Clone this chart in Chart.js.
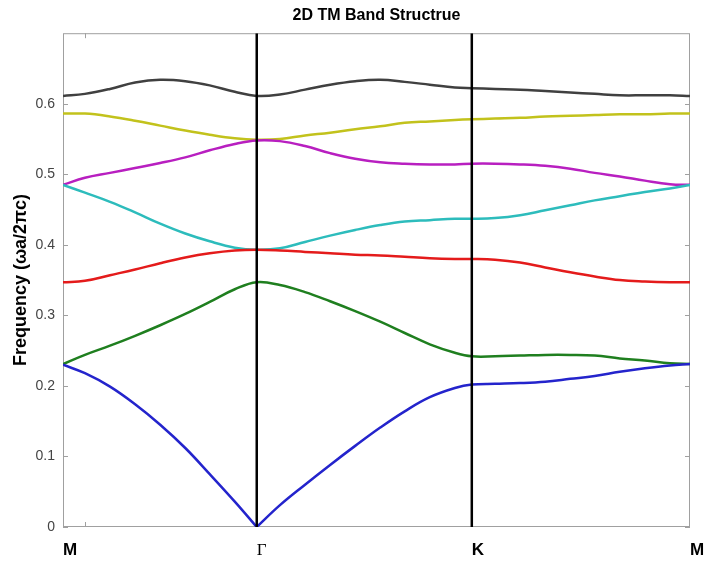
<!DOCTYPE html>
<html>
<head>
<meta charset="utf-8">
<script src="https://cdn.jsdelivr.net/npm/chart.js@4.4.1/dist/chart.umd.min.js"></script>
<style>
  html, body { margin: 0; padding: 0; background: #fff; }
</style>
</head>
<body>
<canvas id="bandChart" width="706" height="565"></canvas>
<script>
// k-path position (M -> Gamma -> K -> M), normalised to 0..1
const kPath = [0, 0.035, 0.075, 0.115, 0.155, 0.195, 0.234, 0.274, 0.309,
               0.346, 0.386, 0.426, 0.466, 0.506, 0.545, 0.585, 0.625, 0.652,
               0.689, 0.729, 0.769, 0.809, 0.848, 0.888, 0.928, 0.968, 1];

const kTicks = [0, 0.309, 0.652, 1];
const kLabels = ['M', 'Γ', 'K', 'M'];
const xMinorTicks = [0.035];
const yTicks = [0, 0.1, 0.2, 0.3, 0.4, 0.5, 0.6];

// band frequencies (wa/2pic)
const band1 = [0.230, 0.218, 0.199, 0.174, 0.145, 0.112, 0.075, 0.036, 0.000,
               0.031, 0.060, 0.088, 0.115, 0.141, 0.164, 0.184, 0.197, 0.202,
               0.203, 0.204, 0.206, 0.210, 0.214, 0.220, 0.225, 0.229, 0.231];
const band2 = [0.231, 0.244, 0.257, 0.271, 0.286, 0.302, 0.319, 0.337, 0.347,
               0.343, 0.333, 0.320, 0.306, 0.291, 0.275, 0.259, 0.247, 0.242,
               0.242, 0.243, 0.244, 0.244, 0.243, 0.239, 0.236, 0.232, 0.231];
const band3 = [0.347, 0.349, 0.357, 0.365, 0.374, 0.382, 0.388, 0.392, 0.393,
               0.392, 0.390, 0.388, 0.386, 0.385, 0.383, 0.381, 0.380, 0.380,
               0.379, 0.375, 0.368, 0.361, 0.355, 0.350, 0.348, 0.347, 0.347];
const band4 = [0.485, 0.474, 0.461, 0.446, 0.430, 0.416, 0.405, 0.396, 0.393,
               0.395, 0.404, 0.413, 0.421, 0.428, 0.433, 0.435, 0.437, 0.437,
               0.438, 0.442, 0.449, 0.456, 0.463, 0.469, 0.475, 0.480, 0.485];
const band5 = [0.485, 0.495, 0.502, 0.509, 0.516, 0.524, 0.534, 0.543, 0.548,
               0.547, 0.540, 0.530, 0.522, 0.517, 0.515, 0.514, 0.514, 0.515,
               0.515, 0.514, 0.512, 0.508, 0.502, 0.497, 0.491, 0.486, 0.485];
const band6 = [0.586, 0.586, 0.582, 0.576, 0.569, 0.562, 0.556, 0.551, 0.549,
               0.550, 0.555, 0.559, 0.564, 0.568, 0.573, 0.575, 0.577, 0.578,
               0.579, 0.580, 0.582, 0.583, 0.584, 0.585, 0.585, 0.586, 0.586];
const band7 = [0.611, 0.614, 0.621, 0.630, 0.634, 0.632, 0.626, 0.617, 0.611,
               0.613, 0.620, 0.627, 0.632, 0.634, 0.631, 0.627, 0.623, 0.622,
               0.621, 0.620, 0.618, 0.616, 0.614, 0.612, 0.612, 0.612, 0.611];

const bands = [band1, band2, band3, band4, band5, band6, band7];
const bandColors = ['#2424cc', '#1f7f1f', '#e41b1b', '#2dbcbc', '#b81fc0', '#c2c21c', '#404040'];

const yMin = 0, yMax = 0.7;
const gammaIdx = kPath.indexOf(kTicks[1]);

function toPoints(ys, from, to) {
    const pts = [];
    for (let i = from; i <= to; i++) pts.push({ x: kPath[i], y: ys[i] });
    return pts;
}

const datasets = [];

// symmetry point lines (Gamma, K)
[kTicks[1], kTicks[2]].forEach(k => {
    datasets.push({
        data: [{ x: k, y: yMin }, { x: k, y: yMax }],
        borderColor: '#000',
        borderWidth: 2.5,
        pointRadius: 0,
        tension: 0,
        order: 0
    });
});

function bandLine(pts, color) {
    return {
        data: pts,
        borderColor: color,
        borderWidth: 2.5,
        pointRadius: 0,
        tension: 0.4,
        order: 1
    };
}

bands.forEach((b, i) => {
    if (i === 0) {
        // lowest band has a sharp V at Gamma: draw both sides separately
        datasets.push(bandLine(toPoints(b, 0, gammaIdx), bandColors[i]));
        datasets.push(bandLine(toPoints(b, gammaIdx, b.length - 1), bandColors[i]));
    } else {
        datasets.push(bandLine(toPoints(b, 0, b.length - 1), bandColors[i]));
    }
});

// matlab-style box with inward ticks
const frameTicks = {
    id: 'frameTicks',
    beforeDatasetsDraw(chart) {
        const { ctx, chartArea: a, scales: { x, y } } = chart;
        ctx.save();
        ctx.strokeStyle = '#a0a0a0';
        ctx.lineWidth = 1;
        ctx.strokeRect(a.left + 0.5, a.top + 0.5, a.right - a.left - 1, a.bottom - a.top - 1);
        ctx.beginPath();
        yTicks.forEach(v => {
            const py = Math.round(y.getPixelForValue(v)) + 0.5;
            ctx.moveTo(a.left, py); ctx.lineTo(a.left + 5, py);
            ctx.moveTo(a.right - 5, py); ctx.lineTo(a.right, py);
        });
        xMinorTicks.forEach(v => {
            const px = Math.round(x.getPixelForValue(v)) + 0.5;
            ctx.moveTo(px, a.bottom); ctx.lineTo(px, a.bottom - 5);
            ctx.moveTo(px, a.top); ctx.lineTo(px, a.top + 5);
        });
        ctx.stroke();
        ctx.restore();
    }
};

const ctx = document.getElementById('bandChart').getContext('2d');
new Chart(ctx, {
    type: 'line',
    data: { datasets: datasets },
    plugins: [frameTicks],
    options: {
        responsive: false,
        animation: false,
        layout: { padding: { left: 0, right: 16, top: 0, bottom: 0 } },
        plugins: {
            legend: { display: false },
            tooltip: { enabled: false },
            title: {
                display: true,
                text: '2D TM Band Structrue',
                fullSize: false,
                color: '#000',
                font: { family: 'Liberation Sans', size: 16, weight: 'bold' },
                padding: { top: 6, bottom: 8 }
            }
        },
        scales: {
            x: {
                type: 'linear',
                min: 0,
                max: 1,
                grid: { display: false, drawTicks: false },
                border: { display: false },
                afterBuildTicks: scale => {
                    scale.ticks = kTicks.map(v => ({ value: v }));
                },
                afterFit: scale => {
                    scale.height = 38;
                    scale.paddingLeft = 0;
                    scale.paddingRight = 0;
                },
                ticks: {
                    autoSkip: false,
                    maxRotation: 0,
                    align: 'start',
                    padding: 13,
                    color: '#000',
                    callback: (v, i) => kLabels[i],
                    font: c => (kLabels[c.index] === 'Γ')
                        ? { family: 'Liberation Serif', size: 17, weight: 'normal' }
                        : { family: 'Liberation Sans', size: 17, weight: 'bold' }
                }
            },
            y: {
                min: yMin,
                max: yMax,
                grid: { display: false, drawTicks: false },
                border: { display: false },
                afterFit: scale => { scale.width = 63; },
                afterBuildTicks: scale => {
                    scale.ticks = yTicks.map(v => ({ value: v }));
                },
                ticks: {
                    padding: 8,
                    color: '#444',
                    font: { family: 'Liberation Sans', size: 14 },
                    callback: v => String(Math.round(v * 10) / 10)
                },
                title: {
                    display: true,
                    text: 'Frequency (ωa/2πc)',
                    color: '#000',
                    font: { family: 'Liberation Sans', size: 18, weight: 'bold' },
                    padding: { top: 10, bottom: 0 }
                }
            }
        }
    }
});
</script>
</body>
</html>
